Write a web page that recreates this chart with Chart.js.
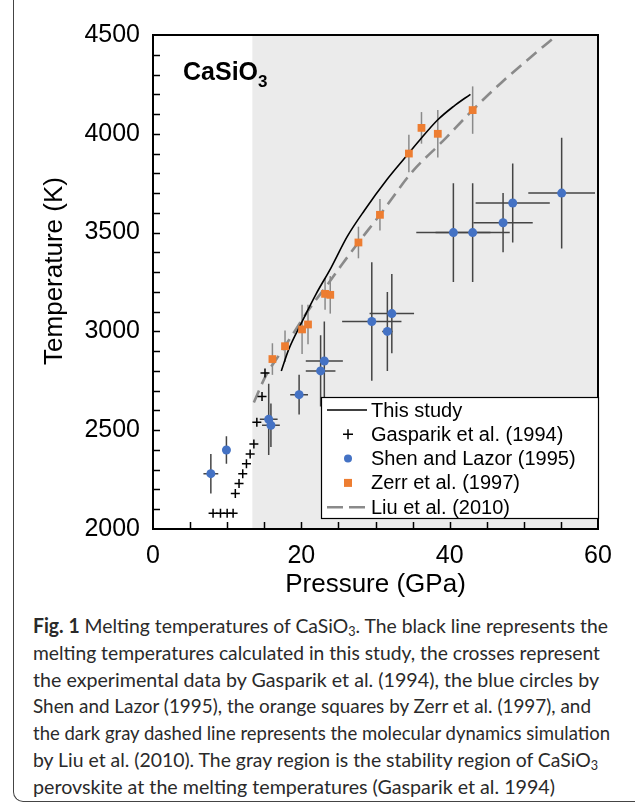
<!DOCTYPE html>
<html>
<head>
<meta charset="utf-8">
<script src="https://cdn.jsdelivr.net/npm/chart.js@4.4.1/dist/chart.umd.min.js"></script>
<style>
body { margin:0; background:#fff; width:635px; height:803px; overflow:hidden; position:relative; }
#frame { position:absolute; left:13px; top:-20px; width:640px; height:822px; border-left:1.5px solid #444; border-bottom:1.5px solid #444; border-bottom-left-radius:10px; box-sizing:border-box; }
#wrap { position:absolute; left:14px; top:0; width:621px; height:600px; }
#caption { position:absolute; left:33px; top:612px; font-family:Lato, sans-serif; font-size:20px; line-height:26.8px; color:#2a2a2a; white-space:nowrap; }
#caption .ln { display:block; width:max-content; transform-origin:0 0; }
#caption sub { font-size:13px; vertical-align:-3px; line-height:0; }
</style>
</head>
<body>
<div id="frame"></div>
<div id="wrap"><canvas id="myChart" width="621" height="600"></canvas></div>
<div id="caption">
<span class="ln"><b>Fig. 1</b> Melting temperatures of CaSiO<sub>3</sub>. The black line represents the</span>
<span class="ln">melting temperatures calculated in this study, the crosses represent</span>
<span class="ln">the experimental data by Gasparik et al. (1994), the blue circles by</span>
<span class="ln">Shen and Lazor (1995), the orange squares by Zerr et al. (1997), and</span>
<span class="ln">the dark gray dashed line represents the molecular dynamics simulation</span>
<span class="ln">by Liu et al. (2010). The gray region is the stability region of CaSiO<sub>3</sub></span>
<span class="ln">perovskite at the melting temperatures (Gasparik et al. 1994)</span>
</div>
<script>
// CaSiO3 melting data

var grayFrom = 13.4; // start of perovskite stability region (GPa)

var studyP = [17.3, 18.3, 20, 22, 24, 26.2, 28.5, 31.6, 34, 36, 38.4, 40.5, 42.8];
var studyT = [2800, 2909, 3042, 3190, 3322, 3481, 3612, 3771, 3880, 3970, 4071, 4138, 4200];

var gasP = [8.1, 9.1, 10.0, 10.8, 11.1, 11.6, 12.1, 12.6, 13.1, 13.6, 14.0, 14.7, 15.1];
var gasT = [2080, 2080, 2080, 2080, 2180, 2230, 2280, 2330, 2380, 2430, 2540, 2670, 2790];

var shenP = [7.8, 9.9, 15.6, 15.9, 19.7, 22.6, 23.1, 29.5, 31.6, 32.2, 40.5, 43.1, 47.2, 48.5, 55.1];
var shenT = [2280, 2400, 2555, 2525, 2680, 2800, 2850, 3050, 3000, 3090, 3500, 3500, 3550, 3650, 3700];
var shenPErr = [1, 0.4, 1.2, 1.2, 1.2, 2, 2.5, 4, 0.7, 3, 5, 5, 4, 5, 4.5];
var shenTErr = [100, 70, 180, 110, 100, 180, 200, 300, 200, 200, 250, 250, 150, 200, 280];

var zerrP = [16.1, 17.8, 20.1, 20.9, 23.2, 23.9, 27.7, 30.6, 34.5, 36.2, 38.4, 43.1];
var zerrT = [2860, 2925, 3010, 3035, 3190, 3185, 3450, 3590, 3900, 4030, 4000, 4120];
var zerrTErr = [80, 80, 125, 100, 80, 95, 80, 80, 95, 80, 120, 120];

var liuP = [13.6, 15.2, 17, 19, 21, 23.5, 25.5, 27.7, 30.6, 35, 39, 43.1, 47, 51, 54.5];
var liuT = [2640, 2775, 2880, 2995, 3110, 3235, 3340, 3450, 3590, 3810, 3960, 4120, 4260, 4390, 4500];

var xTicks = [0, 20, 40, 60];
var yTicks = [2000, 2500, 3000, 3500, 4000, 4500];

var labels = ['This study', 'Gasparik et al. (1994)', 'Shen and Lazor (1995)', 'Zerr et al. (1997)', 'Liu et al. (2010)'];

function pts(xs, ys) {
  return xs.map(function (v, i) { return {x: v, y: ys[i]}; });
}

// squeeze each caption line to the width it has in the figure
var capRight = [608, 600, 599, 591, 610, 598, 555];
function fitCaption() {
  var lines = document.querySelectorAll('#caption .ln');
  lines.forEach(function (el, i) {
    el.style.transform = 'none';
    var w = el.getBoundingClientRect().width;
    el.style.transform = 'scaleX(' + ((capRight[i] - 33) / w).toFixed(4) + ')';
  });
}
fitCaption();
if (document.fonts) document.fonts.ready.then(fitCaption);

var FONT = '"Liberation Sans", Arial, sans-serif';

// gray region + error bars under the markers
var underPlugin = {
  id: 'under',
  beforeDatasetsDraw: function (chart) {
    var ctx = chart.ctx, a = chart.chartArea, x = chart.scales.x, y = chart.scales.y;
    ctx.save();
    ctx.beginPath();
    ctx.rect(a.left, a.top, a.right - a.left, a.bottom - a.top);
    ctx.clip();
    var gx = x.getPixelForValue(grayFrom);
    ctx.fillStyle = '#ebebeb';
    ctx.fillRect(gx, a.top, a.right - gx, a.bottom - a.top);

    ctx.lineWidth = 1.5;
    ctx.strokeStyle = '#8a8a8a';
    zerrP.forEach(function (p, i) {
      var px = x.getPixelForValue(p);
      ctx.beginPath();
      ctx.moveTo(px, y.getPixelForValue(zerrT[i] - zerrTErr[i]));
      ctx.lineTo(px, y.getPixelForValue(zerrT[i] + zerrTErr[i]));
      ctx.stroke();
    });
    ctx.strokeStyle = '#454545';
    shenP.forEach(function (p, i) {
      var px = x.getPixelForValue(p), py = y.getPixelForValue(shenT[i]);
      ctx.beginPath();
      ctx.moveTo(px, y.getPixelForValue(shenT[i] - shenTErr[i]));
      ctx.lineTo(px, y.getPixelForValue(shenT[i] + shenTErr[i]));
      ctx.moveTo(x.getPixelForValue(p - shenPErr[i]), py);
      ctx.lineTo(x.getPixelForValue(p + shenPErr[i]), py);
      ctx.stroke();
    });
    ctx.restore();
  },
  afterDraw: function (chart) {
    var ctx = chart.ctx, a = chart.chartArea, x = chart.scales.x, y = chart.scales.y;
    ctx.save();
    // frame
    ctx.strokeStyle = '#000';
    ctx.lineWidth = 2;
    ctx.strokeRect(a.left, a.top, a.right - a.left, a.bottom - a.top);
    // inside ticks
    ctx.lineWidth = 1.5;
    ctx.beginPath();
    for (var v = 5; v < 60; v += 5) {
      var px = Math.round(x.getPixelForValue(v)) + 0.5;
      ctx.moveTo(px, a.bottom);
      ctx.lineTo(px, a.bottom - 7);
    }
    for (var t = 2100; t < 4500; t += 100) {
      var py = Math.round(y.getPixelForValue(t)) + 0.5;
      ctx.moveTo(a.left, py);
      ctx.lineTo(a.left + 7, py);
    }
    ctx.stroke();

    // y axis title, sits a little above the axis middle
    ctx.save();
    ctx.translate(41, a.top + 236);
    ctx.rotate(-Math.PI / 2);
    ctx.font = '26px ' + FONT;
    ctx.fillStyle = '#000';
    ctx.textAlign = 'center';
    ctx.textBaseline = 'middle';
    ctx.fillText('Temperature (K)', 0, 0);
    ctx.restore();

    // compound label
    ctx.fillStyle = '#000';
    ctx.textBaseline = 'alphabetic';
    ctx.font = 'bold 25px ' + FONT;
    var lx = a.left + 30, ly = a.top + 45;
    ctx.fillText('CaSiO', lx, ly);
    var w = ctx.measureText('CaSiO').width;
    ctx.font = 'bold 17px ' + FONT;
    ctx.fillText('3', lx + w, ly + 7);

    // legend box
    var bx = a.right - 277, by = a.top + 362, bw = 278, bh = 122;
    ctx.fillStyle = '#fff';
    ctx.fillRect(bx, by, bw, bh);
    ctx.strokeStyle = '#000';
    ctx.lineWidth = 1.2;
    ctx.strokeRect(bx + 0.5, by + 0.5, bw - 1, bh - 1);
    ctx.font = '20px ' + FONT;
    ctx.textBaseline = 'middle';
    var sx = bx + 27, tx = bx + 50;
    labels.forEach(function (lab, i) {
      var cy = by + 13 + i * 24.3;
      ctx.fillStyle = '#000';
      ctx.fillText(lab, tx, cy + 1);
      ctx.beginPath();
      if (i === 0) {
        ctx.strokeStyle = '#000'; ctx.lineWidth = 1.5;
        ctx.moveTo(sx - 21, cy); ctx.lineTo(sx + 19, cy); ctx.stroke();
      } else if (i === 1) {
        ctx.strokeStyle = '#000'; ctx.lineWidth = 1.5;
        ctx.moveTo(sx - 5, cy); ctx.lineTo(sx + 5, cy);
        ctx.moveTo(sx, cy - 5); ctx.lineTo(sx, cy + 5); ctx.stroke();
      } else if (i === 2) {
        ctx.fillStyle = '#4472c4';
        ctx.arc(sx, cy, 4, 0, Math.PI * 2); ctx.fill();
      } else if (i === 3) {
        ctx.fillStyle = '#ed7d31';
        ctx.fillRect(sx - 4, cy - 4, 8, 8);
      } else {
        ctx.strokeStyle = '#8a8a8a'; ctx.lineWidth = 2.5;
        ctx.setLineDash([16, 6]);
        ctx.moveTo(sx - 21, cy); ctx.lineTo(sx + 19, cy); ctx.stroke();
        ctx.setLineDash([]);
      }
    });
    ctx.restore();
  }
};

Chart.defaults.font.family = FONT;
Chart.defaults.color = '#000';

var ctx = document.getElementById('myChart');

var myChart = new Chart(ctx, {
  type: 'scatter',
  data: {
    datasets: [{
      label: labels[3],
      data: pts(zerrP, zerrT),
      pointStyle: 'rect',
      pointRadius: 5.5,
      backgroundColor: '#ed7d31',
      borderColor: '#ed7d31',
      borderWidth: 0,
      order: 0
    }, {
      label: labels[2],
      data: pts(shenP, shenT),
      pointStyle: 'circle',
      pointRadius: 4.5,
      backgroundColor: '#4472c4',
      borderColor: '#4472c4',
      borderWidth: 0,
      order: 1
    }, {
      label: labels[1],
      data: pts(gasP, gasT),
      pointStyle: 'cross',
      pointRadius: 4.5,
      borderColor: '#000',
      borderWidth: 1.5,
      order: 2
    }, {
      label: labels[0],
      type: 'line',
      data: pts(studyP, studyT),
      showLine: true,
      borderColor: '#000',
      borderWidth: 1.6,
      pointRadius: 0,
      cubicInterpolationMode: 'monotone',
      order: 3
    }, {
      label: labels[4],
      type: 'line',
      data: pts(liuP, liuT),
      showLine: true,
      borderColor: '#8a8a8a',
      borderWidth: 2.6,
      borderDash: [13, 7],
      pointRadius: 0,
      cubicInterpolationMode: 'monotone',
      order: 4
    }]
  },
  options: {
    responsive: false,
    animation: false,
    layout: { padding: { top: 35, right: 37, left: 0, bottom: 0 } },
    plugins: { legend: { display: false }, tooltip: { enabled: false } },
    scales: {
      x: {
        type: 'linear', min: 0, max: 60,
        afterBuildTicks: function (s) { s.ticks = xTicks.map(function (v) { return {value: v}; }); },
        afterFit: function (s) { s.height = 71; },
        grid: { display: false, drawTicks: false },
        border: { display: false },
        ticks: { font: { size: 25 }, color: '#000', padding: 12, maxRotation: 0, callback: function (v) { return String(v); } },
        title: { display: true, text: 'Pressure (GPa)', font: { size: 26 }, color: '#000', padding: { top: 0, bottom: 0 } }
      },
      y: {
        type: 'linear', min: 2000, max: 4500,
        afterBuildTicks: function (s) { s.ticks = yTicks.map(function (v) { return {value: v}; }); },
        afterFit: function (s) { s.width = 139; },
        grid: { display: false, drawTicks: false },
        border: { display: false },
        ticks: { font: { size: 25 }, color: '#000', padding: 13, callback: function (v) { return String(v); } },
        title: { display: false, text: 'Temperature (K)' }
      }
    }
  },
  plugins: [underPlugin]
});
</script>
</body>
</html>
